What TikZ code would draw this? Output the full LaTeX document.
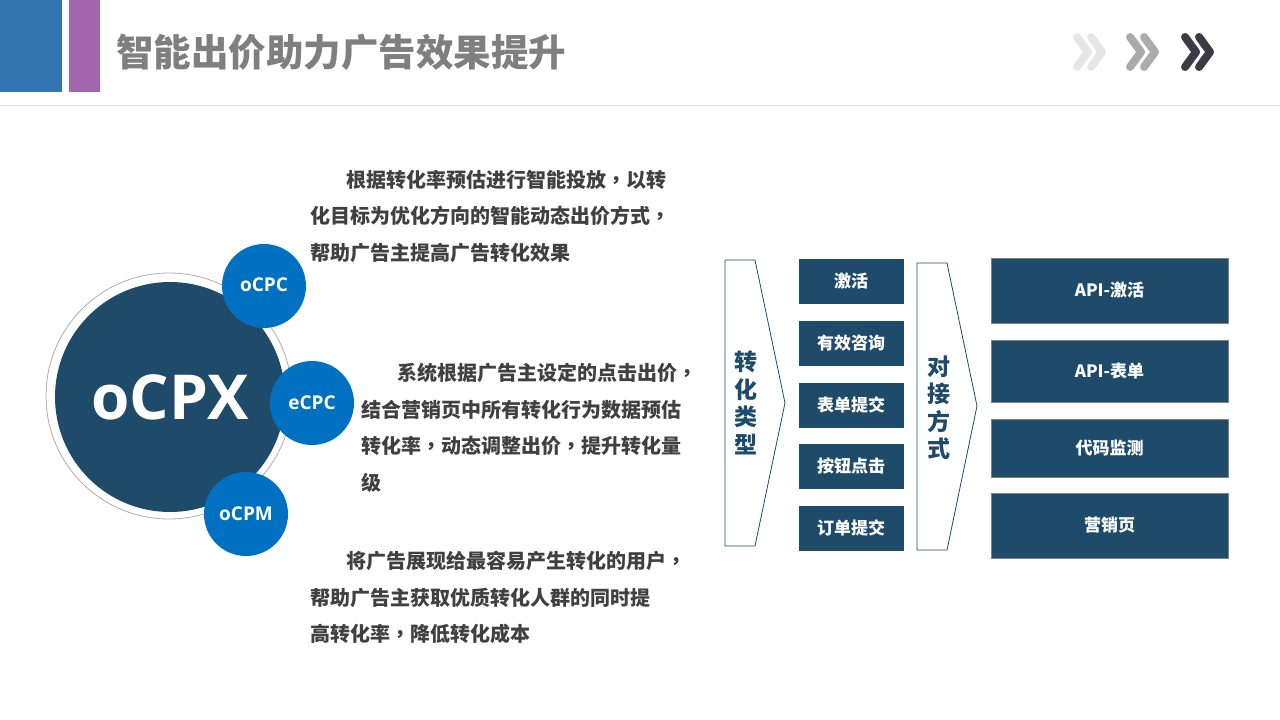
\documentclass[tikz,border=0pt]{standalone}
\usepackage{fontspec}
\usepackage{xcolor}
\usepackage{tikz}
\setmainfont{Noto Sans CJK SC}
\newfontfamily\latinsans{Open Sans}
\newfontfamily\tcpunct{Noto Sans CJK TC}
\newcommand{\cm}{{\tcpunct ，}}

\definecolor{navy}{HTML}{1F4B6B}
\definecolor{bubbleblue}{HTML}{0070C0}
\definecolor{hdrblue}{HTML}{3474B1}
\definecolor{hdrpurple}{HTML}{A266AE}
\definecolor{titlegray}{HTML}{7F7F7F}
\definecolor{bodytext}{HTML}{404040}
\definecolor{chevlight}{HTML}{E6E6E6}
\definecolor{chevmid}{HTML}{ABABAB}
\definecolor{chevdark}{HTML}{3B3A45}

\begin{document}
\begin{tikzpicture}[x=1pt, y=-1pt,
    bubble/.style={circle, fill=bubbleblue, minimum size=84pt, inner sep=0pt, text=white,
        font=\latinsans\bfseries\fontsize{19}{22}\selectfont},
    para/.style={anchor=north west, align=left, inner sep=0pt, text=bodytext,
        font=\bfseries\fontsize{20}{36.5}\selectfont},
    typebox/.style={fill=navy, minimum width=105pt, minimum height=45pt, inner sep=0pt,
        text=white, font=\bfseries\fontsize{17}{20}\selectfont},
    waybox/.style={fill=navy, draw=gray, line width=0.8pt, minimum width=237pt, inner sep=0pt,
        text=white, font=\bfseries\fontsize{17}{20}\selectfont},
    vlabel/.style={align=center, inner sep=0pt, text=navy,
        font=\bfseries\fontsize{23}{27.5}\selectfont},
    chevron/.style={line width=8pt, line cap=round, line join=round}]
    \useasboundingbox (0,0) rectangle (1280,720);

    % Header
    \fill[hdrblue] (0,0) rectangle (62,92);
    \fill[hdrpurple] (69,0) rectangle (100,92);
    \node[anchor=west, inner sep=0pt, text=titlegray,
        font=\bfseries\fontsize{37.5}{40}\selectfont] (title) at (116,52) {智能出价助力广告效果提升};
    \draw[gray!18, line width=1pt] (0,105) -- (1280,105);
    \foreach \x/\c in {1077/chevlight, 1130/chevmid, 1185/chevdark} {
        \draw[chevron, \c] (\x,37) -- (\x+11,52) -- (\x,67);
        \draw[chevron, \c] (\x+14,37) -- (\x+25,52) -- (\x+14,67);
    }

    % oCPX circles
    \node[circle, draw=gray!65, line width=0.8pt, minimum size=246pt] (ring) at (169,396) {};
    \node[circle, fill=navy, minimum size=230pt, inner sep=0pt, text=white,
        font=\latinsans\bfseries\fontsize{62}{70}\selectfont] (ocpx) at (170,397) {oCPX};
    \node[bubble] (ocpc) at (264,286) {\raisebox{3pt}{oCPC}};
    \node[bubble] (ecpc) at (312,403) {eCPC};
    \node[bubble] (ocpm) at (246,514) {oCPM};

    % Descriptions
    \node[para] (ocpctext) at (310,170) {\hspace*{36pt}根据转化率预估进行智能投放\cm 以转\\化目标为优化方向的智能动态出价方式\cm\\帮助广告主提高广告转化效果};
    \node[para] (ecpctext) at (361,363) {\hspace*{36pt}系统根据广告主设定的点击出价\cm\\结合营销页中所有转化行为数据预估\\转化率\cm 动态调整出价\cm 提升转化量\\级};
    \node[para] (ocpmtext) at (310,551) {\hspace*{36pt}将广告展现给最容易产生转化的用户\cm\\帮助广告主获取优质转化人群的同时提\\高转化率\cm 降低转化成本};

    % Conversion types
    \draw[navy, line width=0.8pt, fill=white] (725,260) -- (755,260) -- (785,403) -- (755,546) -- (725,546) -- cycle;
    \node[vlabel] (convtype) at (746,403) {转\\化\\类\\型};
    \node[typebox] (activate) at (851,281) {激活};
    \node[typebox] (consult) at (851,343) {有效咨询};
    \node[typebox] (formsubmit) at (851,405) {表单提交};
    \node[typebox] (btnclick) at (851,466) {按钮点击};
    \node[typebox] (ordersubmit) at (851,528) {订单提交};

    % Integration methods
    \draw[navy, line width=0.8pt, fill=white] (917,263) -- (947,263) -- (977,406) -- (947,550) -- (917,550) -- cycle;
    \node[vlabel] (linkway) at (939,408) {对\\接\\方\\式};
    \node[waybox, minimum height=65pt] (apiact) at (1109.5,290.5) {API-激活};
    \node[waybox, minimum height=62pt] (apiform) at (1109.5,371) {API-表单};
    \node[waybox, minimum height=58pt] (codemon) at (1109.5,448) {代码监测};
    \node[waybox, minimum height=65pt] (landing) at (1109.5,525.5) {营销页};
\end{tikzpicture}
\end{document}
